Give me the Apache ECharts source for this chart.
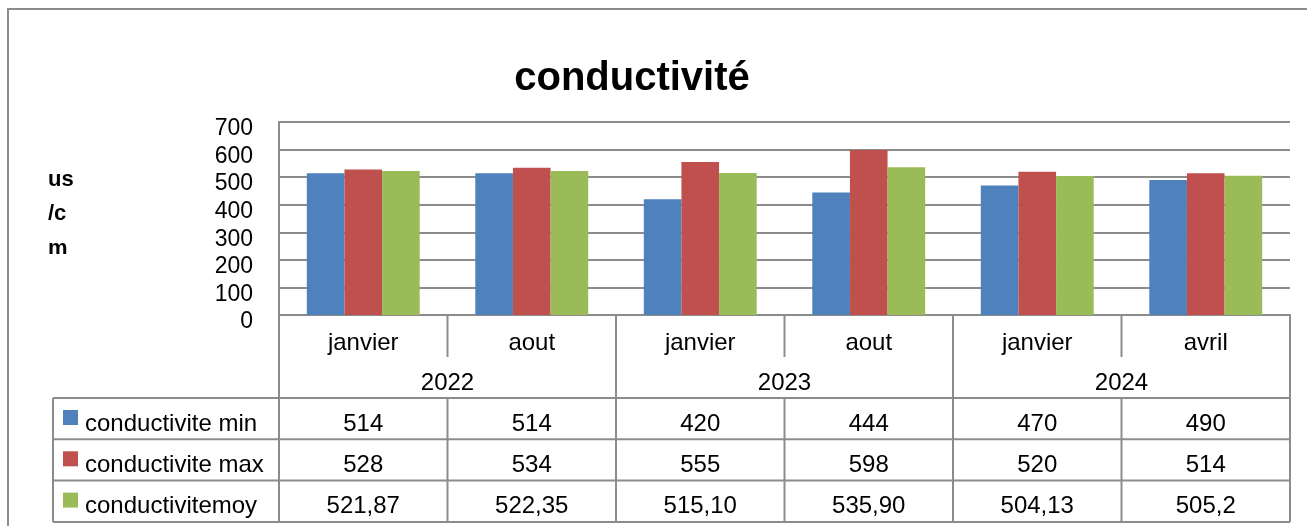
<!DOCTYPE html>
<html>
<head>
<meta charset="utf-8">
<script src="https://cdn.jsdelivr.net/npm/echarts@6/dist/echarts.min.js"></script>
<style>
  html, body { margin: 0; padding: 0; background: #fff; }
  #main { width: 1307px; height: 526px; }
</style>
</head>
<body>
<div id="main"></div>
<script>
// conductivity chart with an Excel-like data table under it

let months = ["janvier", "aout", "janvier", "aout", "janvier", "avril"];
// each year spans two months
let years = ["2022", "2023", "2024"];

let series_names = ["conductivite min", "conductivite max", "conductivitemoy"];
let series_colors = ["#4F81BD", "#C0504D", "#9BBB59"];

let cond_min = ["514", "514", "420", "444", "470", "490"];
let cond_max = ["528", "534", "555", "598", "520", "514"];
let cond_moy = ["521,87", "522,35", "515,10", "535,90", "504,13", "505,2"];

let y_ticks = [0, 100, 200, 300, 400, 500, 600, 700];

let font_family = "'Liberation Sans', Arial, sans-serif";
let line_color = "#8c8c8c";

// table values are written with a decimal comma
function to_num(s) {
    return parseFloat(s.replace(",", "."));
}

let table_rows = [cond_min, cond_max, cond_moy];

let chart = echarts.init(document.getElementById("main"));

let option = {
    animation: false,
    backgroundColor: "#fff",
    grid: { left: 279, right: 17, top: 122, bottom: 211 },
    xAxis: {
        type: "category",
        data: months,
        axisLine: { lineStyle: { color: line_color, width: 2 } },
        axisTick: { show: false },
        axisLabel: { show: false }
    },
    yAxis: {
        type: "value",
        min: y_ticks[0],
        max: y_ticks[y_ticks.length - 1],
        interval: y_ticks[1] - y_ticks[0],
        axisLine: { show: true, lineStyle: { color: line_color, width: 2 } },
        axisTick: { show: false },
        splitLine: { lineStyle: { color: line_color, width: 2 } },
        axisLabel: {
            margin: 26,
            color: "#000",
            fontSize: 23,
            fontFamily: font_family,
            verticalAlign: "top",
            lineHeight: 14
        }
    },
    series: table_rows.map(function (row, k) {
        return {
            name: series_names[k],
            type: "bar",
            data: row.map(to_num),
            itemStyle: { color: series_colors[k] },
            barGap: "0%",
            barCategoryGap: "33%"
        };
    })
};

chart.setOption(option);

// Build table + title + axis name once the scales exist
function build_graphic() {
    let g = [];
    let c0 = chart.convertToPixel({ xAxisIndex: 0 }, 0);
    let c1 = chart.convertToPixel({ xAxisIndex: 0 }, 1);
    let band = c1 - c0;
    let x_left = c0 - band / 2;
    let x_right = x_left + band * months.length;
    let y_axis = chart.convertToPixel({ yAxisIndex: 0 }, 0);

    let month_bottom = y_axis + 42;
    let year_bottom = y_axis + 83;
    let row_h = 41.3;
    let table_left = 53;
    let table_bottom = year_bottom + row_h * 3;

    function line(x1, y1, x2, y2) {
        g.push({
            type: "line",
            shape: { x1: x1, y1: y1, x2: x2, y2: y2 },
            style: { stroke: line_color, lineWidth: 2 },
            z: 10
        });
    }
    function text(str, x, y, opts) {
        opts = opts || {};
        g.push({
            type: "text",
            x: x,
            y: y,
            style: {
                text: str,
                fill: "#000",
                font: (opts.bold ? "bold " : "") + (opts.size || 24) + "px " + font_family,
                align: opts.align || "center",
                verticalAlign: "middle"
            },
            z: 11
        });
    }

    // outer chart border
    g.push({
        type: "rect",
        shape: { x: 8, y: 9, width: 1320, height: 540 },
        style: { fill: null, stroke: line_color, lineWidth: 2 },
        z: 1
    });

    // title
    text("conductivité", 632, 79, { bold: true, size: 40 });

    // y axis name, wrapped like Excel and clipped at the bottom
    text("us", 48, 180, { bold: true, size: 22, align: "left" });
    text("/c", 48, 214, { bold: true, size: 22, align: "left" });
    text("m", 48, 249, { bold: true, size: 22, align: "left" });
    g.push({
        type: "rect",
        shape: { x: 40, y: 254, width: 60, height: 20 },
        style: { fill: "#fff" },
        z: 12
    });

    // table horizontal lines
    line(table_left, year_bottom, x_right, year_bottom);
    for (let r = 1; r <= 3; r++) {
        let y = year_bottom + row_h * r;
        line(table_left, y, x_right, y);
    }
    // table vertical lines
    line(table_left, year_bottom, table_left, table_bottom);
    line(x_left, y_axis, x_left, table_bottom);
    line(x_right, y_axis, x_right, table_bottom);
    for (let i = 1; i < months.length; i++) {
        let x = x_left + band * i;
        if (i % 2 === 0) {
            line(x, y_axis, x, table_bottom);
        } else {
            line(x, y_axis, x, month_bottom);
            line(x, year_bottom, x, table_bottom);
        }
    }

    // month and year labels
    for (let i = 0; i < months.length; i++) {
        text(months[i], x_left + band * (i + 0.5), y_axis + 28);
    }
    for (let j = 0; j < years.length; j++) {
        text(years[j], x_left + band * (j * 2 + 1), y_axis + 68);
    }

    // data rows with legend keys
    for (let r = 0; r < table_rows.length; r++) {
        let top = year_bottom + row_h * r;
        g.push({
            type: "rect",
            shape: { x: 63, y: top + 12, width: 15, height: 15 },
            style: { fill: series_colors[r] },
            z: 11
        });
        text(series_names[r], 85, top + 26, { align: "left" });
        for (let i = 0; i < months.length; i++) {
            text(table_rows[r][i], x_left + band * (i + 0.5), top + 26);
        }
    }

    chart.setOption({ graphic: g });
}

build_graphic();
</script>
</body>
</html>
